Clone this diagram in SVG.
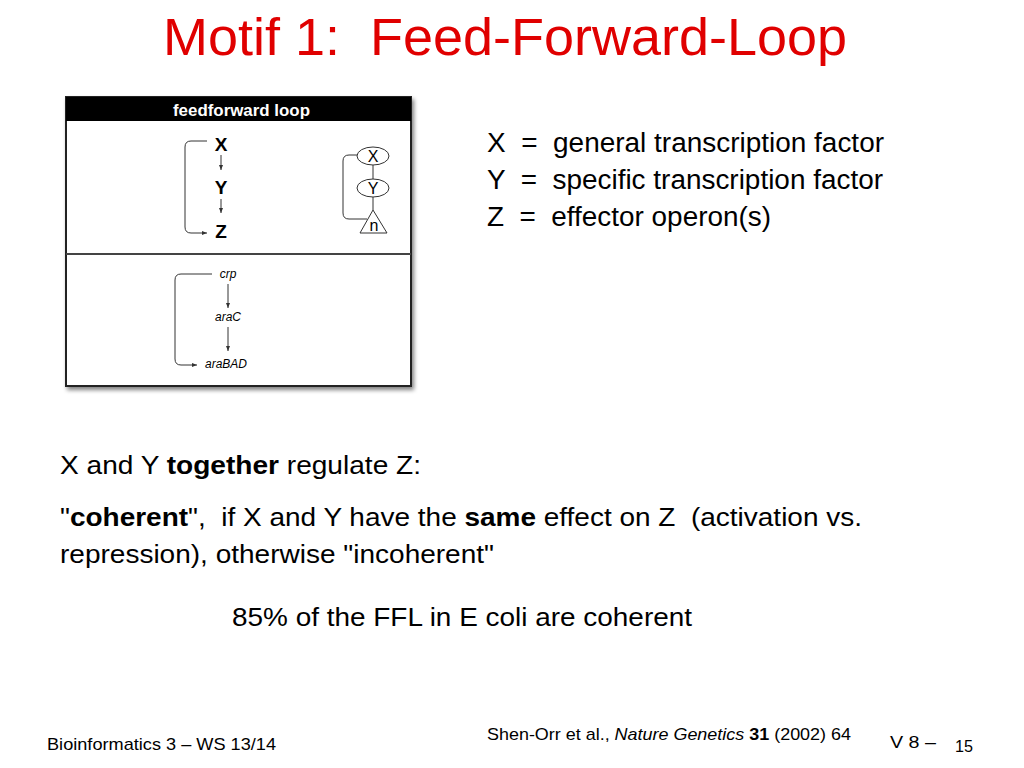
<svg xmlns="http://www.w3.org/2000/svg" width="1024" height="768" viewBox="0 0 1024 768" xml:space="preserve">
<defs>
<style>
text{font-family:"Liberation Sans",Arial,sans-serif;fill:#000;white-space:pre}
.title{fill:#e00000;font-size:51px}
.body{font-size:26px}
.def{font-size:27px}
.foot{font-size:17px}
.big{font-size:19px;font-weight:bold;text-anchor:middle}
.gene{font-size:12px;font-style:italic;text-anchor:middle}
.sm{font-size:16px;text-anchor:middle}
.ln{fill:none;stroke:#333;stroke-width:1}
</style>
<marker id="ah" markerWidth="6" markerHeight="6" refX="5" refY="3" orient="auto" markerUnits="userSpaceOnUse">
<path d="M0,1 L5,3 L0,5 z" fill="#333"/>
</marker>
<filter id="sh" x="-5%" y="-5%" width="115%" height="115%">
<feGaussianBlur in="SourceAlpha" stdDeviation="2"/>
<feOffset dx="2" dy="3"/>
<feComponentTransfer><feFuncA type="linear" slope="0.5"/></feComponentTransfer>
<feMerge><feMergeNode/><feMergeNode in="SourceGraphic"/></feMerge>
</filter>
</defs>
<rect width="1024" height="768" fill="#fff"/>
<text class="title" x="163" y="55" textLength="684" lengthAdjust="spacingAndGlyphs">Motif 1:  Feed-Forward-Loop</text>

<g id="figure">
<rect x="66" y="97" width="345" height="289" fill="#fff" stroke="#222" stroke-width="2" filter="url(#sh)"/>
<rect x="66" y="97" width="345" height="24" fill="#000"/>
<text x="173" y="116" textLength="137" lengthAdjust="spacingAndGlyphs" style="fill:#fff;font-size:17px;font-weight:bold">feedforward loop</text>
<line x1="66" y1="254" x2="411" y2="254" stroke="#444" stroke-width="2"/>
</g>

<g id="node-X"><text class="big" x="221" y="151">X</text></g>
<g id="node-Y"><text class="big" x="221" y="194">Y</text></g>
<g id="node-Z"><text class="big" x="221" y="238">Z</text></g>

<g id="node-sX"><ellipse cx="373" cy="156" rx="16" ry="9" fill="#fff" stroke="#333"/><text class="sm" x="373" y="162">X</text></g>
<g id="node-sY"><ellipse cx="373" cy="188" rx="16" ry="9" fill="#fff" stroke="#333"/><text class="sm" x="373" y="194">Y</text></g>
<g id="node-sn"><path d="M373,210 L360,233 L387,233 Z" fill="#fff" stroke="#333"/><text class="sm" x="374" y="231">n</text></g>

<g id="node-crp"><text class="gene" x="228" y="278">crp</text></g>
<g id="node-araC"><text class="gene" x="228" y="321">araC</text></g>
<g id="node-araBAD"><text class="gene" x="226" y="368">araBAD</text></g>

<g id="connectors">
<line class="ln" x1="221" y1="155" x2="221" y2="170" marker-end="url(#ah)"/>
<line class="ln" x1="221" y1="199" x2="221" y2="213" marker-end="url(#ah)"/>
<path class="ln" d="M207,141 L191,141 Q185,141 185,147 L185,227 Q185,233 191,233 L207,233" marker-end="url(#ah)"/>
<line class="ln" x1="373" y1="165" x2="373" y2="179"/>
<line class="ln" x1="373" y1="197" x2="373" y2="210"/>
<path class="ln" d="M357,155 L349,155 Q343,155 343,161 L343,213 Q343,219 349,219 L367,219"/>
<line class="ln" x1="228" y1="284" x2="228" y2="308" marker-end="url(#ah)"/>
<line class="ln" x1="228" y1="327" x2="228" y2="351" marker-end="url(#ah)"/>
<path class="ln" d="M212,274 L181,274 Q175,274 175,280 L175,359 Q175,365 181,365 L197,365" marker-end="url(#ah)"/>
</g>

<text class="def" x="487" y="152" textLength="397" lengthAdjust="spacingAndGlyphs">X  =  general transcription factor</text>
<text class="def" x="487" y="189" textLength="396" lengthAdjust="spacingAndGlyphs">Y  =  specific transcription factor</text>
<text class="def" x="487" y="226" textLength="284" lengthAdjust="spacingAndGlyphs">Z  =  effector operon(s)</text>

<text class="body" x="60" y="474" textLength="361" lengthAdjust="spacingAndGlyphs">X and Y <tspan font-weight="bold">together</tspan> regulate Z:</text>
<text class="body" x="60" y="526" textLength="802" lengthAdjust="spacingAndGlyphs">"<tspan font-weight="bold">coherent</tspan>",  if X and Y have the <tspan font-weight="bold">same</tspan> effect on Z  (activation vs.</text>
<text class="body" x="60" y="563" textLength="434" lengthAdjust="spacingAndGlyphs">repression), otherwise "incoherent"</text>
<text class="body" x="232" y="626" textLength="460" lengthAdjust="spacingAndGlyphs">85% of the FFL in E coli are coherent</text>

<text class="foot" x="47" y="750" textLength="229" lengthAdjust="spacingAndGlyphs">Bioinformatics 3 – WS 13/14</text>
<text class="foot" x="487" y="740" textLength="364" lengthAdjust="spacingAndGlyphs">Shen-Orr et al., <tspan font-style="italic">Nature Genetics</tspan> <tspan font-weight="bold">31</tspan> (2002) 64</text>
<text class="foot" x="890" y="748" textLength="46" lengthAdjust="spacingAndGlyphs">V 8 –</text>
<text class="foot" x="955" y="752" textLength="18" lengthAdjust="spacingAndGlyphs">15</text>
</svg>
